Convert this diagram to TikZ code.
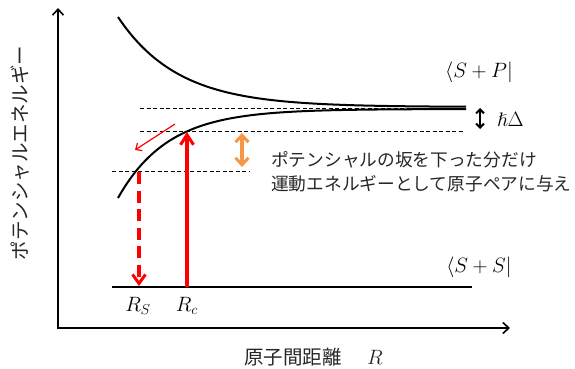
\documentclass[tikz,border=0pt]{standalone}
\usepackage{amssymb}
\usepackage{fontspec}
\newfontfamily\jp{Noto Sans CJK JP}
\usetikzlibrary{arrows.meta}
\definecolor{orangearr}{HTML}{F79646}
\begin{document}
\begin{tikzpicture}[x=1pt,y=-1pt,
  axis/.style={line width=2pt, {Straight Barb[length=6pt,width=11pt,line width=1.6pt]}-{Straight Barb[length=6pt,width=11pt,line width=1.6pt]}},
  curve/.style={line width=2pt},
  guide/.style={line width=1pt, dash pattern=on 4pt off 2.5pt},
  level/.style={line width=2.6pt},
  redup/.style={draw=red, line width=3.2pt, -{Straight Barb[length=10pt,width=13pt,line width=3pt]}},
  reddown/.style={draw=red, line width=3.2pt, dash pattern=on 12pt off 6.5pt, -{Straight Barb[length=9pt,width=13pt,line width=3pt]}},
  redthin/.style={draw=red, line width=1.2pt, -{Straight Barb[length=5pt,width=9pt,line width=1.2pt]}},
  orangedbl/.style={draw=orangearr, line width=3.5pt, {Straight Barb[length=7pt,width=13pt,line width=3pt]}-{Straight Barb[length=7pt,width=13pt,line width=3pt]}},
  blackdbl/.style={line width=2.4pt, {Straight Barb[length=4pt,width=8pt,line width=2pt]}-{Straight Barb[length=4pt,width=8pt,line width=2pt]}},
  jptext/.style={font=\jp\fontsize{17.7}{23.5}\selectfont, text=black!85, inner sep=0pt},
  jpaxis/.style={font=\jp\fontsize{19.5}{22}\selectfont, text=black!85, inner sep=0pt},
  mathlbl/.style={font=\fontsize{19.5}{23}\selectfont, inner sep=0pt}
]
\useasboundingbox (0,0) rectangle (575,369);

% axes
\coordinate (ytop) at (58,8);
\coordinate (O) at (58,328);
\coordinate (xend) at (510,328);
\draw[axis] (ytop) -- (O) -- (xend);

% potential curves
\draw[curve] plot[domain=118:466,samples=120] (\x,{107-90*exp(-(\x-118)/60)});
\draw[curve] plot[domain=118:466,samples=120] (\x,{109+89*exp(-(\x-118)/50)});

% dashed guides
\coordinate (d1a) at (140,108); \coordinate (d1b) at (464,108);
\coordinate (d2a) at (140,131); \coordinate (d2b) at (464,131);
\coordinate (d3a) at (112,171); \coordinate (d3b) at (250,171);
\draw[guide] (d1a) -- (d1b);
\draw[guide] (d2a) -- (d2b);
\draw[guide] (d3a) -- (d3b);

% ground level
\coordinate (ga) at (112,287); \coordinate (gb) at (472,287);
\draw[level] (ga) -- (gb);

% arrows
\coordinate (rcb) at (187,287); \coordinate (rct) at (187,132);
\draw[redup] (rcb) -- (rct);
\coordinate (rst) at (139,172); \coordinate (rsb) at (139,286);
\draw[reddown] (rst) -- (rsb);
\coordinate (tha) at (175,124); \coordinate (thb) at (135,150);
\draw[redthin] (tha) -- (thb);
\coordinate (oa) at (242,133); \coordinate (ob) at (242,167);
\draw[orangedbl] (oa) -- (ob);
\coordinate (ha) at (480,108); \coordinate (hb) at (480,129);
\draw[blackdbl] (ha) -- (hb);

% labels
\node[mathlbl] (sp) at (479,72) {$\langle S+P|$};
\node[mathlbl] (ss) at (479,267) {$\langle S+S|$};
\node[mathlbl, anchor=west] (hd) at (497,119) {$\hslash\Delta$};
\node[mathlbl] (rs) at (138,306) {$R_S$};
\node[mathlbl] (rc) at (187,306) {$R_c$};
\node[jpaxis, anchor=west] (xl) at (244,357) {原子間距離\hspace{1.3em}$R$};
\node[jpaxis, rotate=90] (yl) at (20,153) {ポテンシャルエネルギー};
\node[jptext, anchor=west, align=left] (ann) at (271,171.5) {ポテンシャルの坂を下った分だけ\\運動エネルギーとして原子ペアに与え};
\end{tikzpicture}
\end{document}
